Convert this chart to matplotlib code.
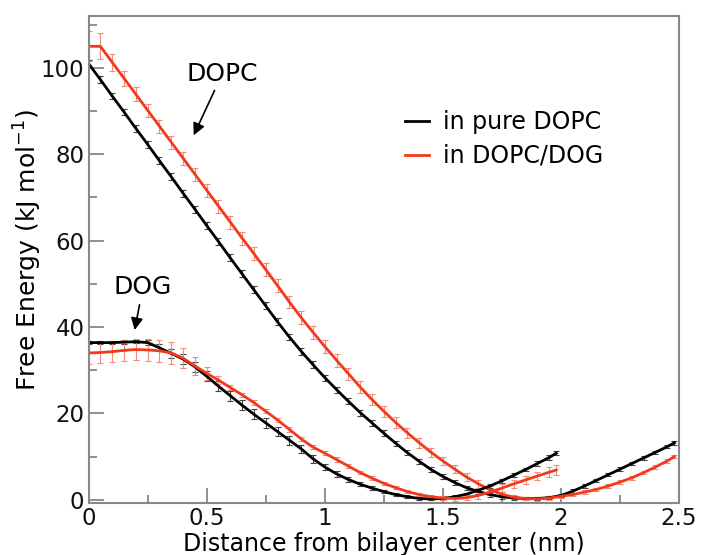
import matplotlib
matplotlib.use("Agg")
import matplotlib.pyplot as plt
import matplotlib.ticker as ticker

# distance from bilayer center (nm)
x_dopc = [0.00, 0.05, 0.10, 0.15, 0.20, 0.25, 0.30, 0.35, 0.40, 0.45,
          0.50, 0.55, 0.60, 0.65, 0.70, 0.75, 0.80, 0.85, 0.90, 0.95,
          1.00, 1.05, 1.10, 1.15, 1.20, 1.25, 1.30, 1.35, 1.40, 1.45,
          1.50, 1.55, 1.60, 1.65, 1.70, 1.75, 1.80, 1.85, 1.90, 1.95,
          2.00, 2.05, 2.10, 2.15, 2.20, 2.25, 2.30, 2.35, 2.40, 2.45, 2.48]
x_dog = [0.00, 0.05, 0.10, 0.15, 0.20, 0.25, 0.30, 0.35, 0.40, 0.45,
         0.50, 0.55, 0.60, 0.65, 0.70, 0.75, 0.80, 0.85, 0.90, 0.95,
         1.00, 1.05, 1.10, 1.15, 1.20, 1.25, 1.30, 1.35, 1.40, 1.45,
         1.50, 1.55, 1.60, 1.65, 1.70, 1.75, 1.80, 1.85, 1.90, 1.95, 1.98]

# free energy (kJ/mol), DOPC in pure DOPC (black) and in DOPC/DOG (red)
dopc_pure = [101.0, 97.3, 93.5, 89.8, 86.0, 82.3, 78.5, 74.8, 71.0, 67.3,
             63.5, 59.8, 56.0, 52.3, 48.6, 44.9, 41.2, 37.7, 34.4, 31.3,
             28.3, 25.5, 22.8, 20.2, 17.8, 15.4, 13.1, 10.9, 8.9, 7.0,
             5.4, 4.0, 2.8, 1.9, 1.2, 0.7, 0.4, 0.3, 0.3, 0.5,
             1.0, 2.0, 3.2, 4.5, 5.8, 7.1, 8.4, 9.7, 11.0, 12.3, 13.2]
dopc_mix = [105.0, 105.0, 101.3, 97.6, 93.9, 90.2, 86.5, 82.8, 79.1, 75.4,
            71.7, 68.0, 64.3, 60.6, 57.0, 53.3, 49.6, 45.8, 42.2, 38.8,
            35.5, 32.3, 29.2, 26.1, 23.2, 20.5, 17.9, 15.5, 13.2, 11.0,
            9.0, 7.1, 5.3, 3.7, 2.3, 1.3, 0.6, 0.3, 0.2, 0.4,
            0.8, 1.2, 1.8, 2.4, 3.2, 4.1, 5.1, 6.3, 7.6, 9.0, 10.0]
dopc_pure_err = [0.8, 0.8, 0.8, 0.8, 0.8, 0.8, 0.8, 0.8, 0.8, 0.8,
                 0.8, 0.8, 0.8, 0.8, 0.8, 0.8, 0.8, 0.8, 0.8, 0.8,
                 0.7, 0.7, 0.7, 0.7, 0.7, 0.7, 0.6, 0.6, 0.6, 0.6,
                 0.5, 0.5, 0.5, 0.5, 0.5, 0.4, 0.4, 0.4, 0.4, 0.4,
                 0.4, 0.4, 0.4, 0.4, 0.4, 0.4, 0.4, 0.4, 0.4, 0.4, 0.4]
dopc_mix_err = [3.5, 3.0, 2.0, 1.8, 1.6, 1.5, 1.5, 1.5, 1.5, 1.5,
                1.5, 1.5, 1.5, 1.5, 1.5, 1.5, 1.5, 1.5, 1.5, 1.5,
                1.5, 1.5, 1.4, 1.4, 1.3, 1.3, 1.2, 1.2, 1.2, 1.1,
                1.0, 1.0, 0.9, 0.9, 0.8, 0.6, 0.5, 0.4, 0.4, 0.4,
                0.4, 0.4, 0.4, 0.4, 0.4, 0.4, 0.4, 0.4, 0.4, 0.4, 0.4]

# free energy (kJ/mol), DOG in pure DOPC (black) and in DOPC/DOG (red)
dog_pure = [36.4, 36.4, 36.4, 36.5, 36.6, 36.4, 35.2, 33.9, 32.6, 30.8,
            28.6, 26.3, 24.1, 21.9, 19.8, 17.8, 15.8, 13.8, 11.8, 9.5,
            7.6, 6.0, 4.7, 3.6, 2.7, 1.9, 1.2, 0.7, 0.3, 0.2,
            0.3, 0.7, 1.3, 2.2, 3.2, 4.4, 5.7, 7.0, 8.4, 9.8, 10.8]
dog_mix = [34.0, 34.1, 34.3, 34.6, 34.8, 34.7, 34.5, 34.0, 32.8, 31.0,
           29.3, 27.7, 26.0, 24.3, 22.5, 20.5, 18.5, 16.3, 14.1, 12.2,
           10.8, 9.3, 7.8, 6.3, 5.0, 3.8, 2.8, 1.9, 1.2, 0.7,
           0.4, 0.3, 0.5, 1.0, 1.8, 2.7, 3.7, 4.6, 5.5, 6.4, 6.9]
dog_pure_err = [0.4, 0.4, 0.4, 0.4, 0.4, 0.5, 0.8, 1.0, 1.2, 1.2,
                1.2, 1.2, 1.2, 1.2, 1.2, 1.2, 1.1, 1.0, 1.0, 0.9,
                0.8, 0.7, 0.6, 0.5, 0.5, 0.4, 0.4, 0.3, 0.3, 0.3,
                0.3, 0.3, 0.3, 0.3, 0.4, 0.4, 0.4, 0.4, 0.5, 0.5, 0.5]
dog_mix_err = [2.5, 2.5, 2.5, 2.5, 2.5, 2.5, 2.5, 2.5, 2.3, 2.0,
               1.5, 1.0, 0.6, 0.5, 0.5, 0.5, 0.5, 0.5, 0.5, 0.5,
               0.5, 0.5, 0.5, 0.4, 0.4, 0.4, 0.4, 0.4, 0.4, 0.4,
               0.4, 0.5, 0.6, 0.7, 0.8, 0.9, 1.0, 1.0, 1.0, 1.1, 1.1]

black = '#000000'
red = '#f2391c'

plt.rcParams['font.family'] = 'DejaVu Sans'

fig = plt.figure(figsize=(7.03, 5.55), dpi=100)
ax = fig.add_axes([0.126, 0.094, 0.840, 0.877])

# error bars first, lines on top
for x, y, e, ec in [(x_dopc, dopc_pure, dopc_pure_err, '#444444'),
                    (x_dopc, dopc_mix, dopc_mix_err, '#f58a78'),
                    (x_dog, dog_pure, dog_pure_err, '#444444'),
                    (x_dog, dog_mix, dog_mix_err, '#f58a78')]:
    ax.errorbar(x, y, yerr=e, fmt='none', ecolor=ec, elinewidth=0.8, capsize=2, capthick=0.8)

ax.plot(x_dopc, dopc_pure, color=black, lw=2, label='in pure DOPC')
ax.plot(x_dopc, dopc_mix, color=red, lw=2, label='in DOPC/DOG')
ax.plot(x_dog, dog_pure, color=black, lw=2)
ax.plot(x_dog, dog_mix, color=red, lw=2)

ax.set_xlim(0, 2.5)
ax.set_ylim(-0.7, 112)
ax.xaxis.set_major_locator(ticker.MultipleLocator(0.5))
ax.xaxis.set_minor_locator(ticker.MultipleLocator(0.25))
ax.yaxis.set_major_locator(ticker.MultipleLocator(20))
ax.yaxis.set_minor_locator(ticker.MultipleLocator(10))
ax.xaxis.set_major_formatter(ticker.FormatStrFormatter('%g'))
ax.tick_params(which='both', direction='in', colors='#888888', labelcolor='#111111', labelsize=16.5, width=1.3)
ax.tick_params(which='major', length=11)
ax.tick_params(which='minor', length=6)
ax.tick_params(axis='x', pad=3)
ax.tick_params(axis='y', pad=3)
for s in ax.spines.values():
    s.set_color('#888888')
    s.set_linewidth(1.5)

ax.set_xlabel('Distance from bilayer center (nm)', fontsize=17, labelpad=1.5)
ax.set_ylabel('Free Energy (kJ mol$^{-1}$)', fontsize=18, labelpad=-2)
ax.yaxis.label.set_y(0.52)

ax.annotate('DOPC', xy=(0.445, 84.4), xytext=(0.565, 98.5), fontsize=18, ha='center', va='center',
            arrowprops=dict(arrowstyle='-|>', color='black', lw=1.2, mutation_scale=18, shrinkA=1, shrinkB=0))
ax.annotate('DOG', xy=(0.195, 39.3), xytext=(0.23, 49.2), fontsize=18, ha='center', va='center',
            arrowprops=dict(arrowstyle='-|>', color='black', lw=1.2, mutation_scale=18, shrinkA=2, shrinkB=0))

ax.legend(loc='upper left', bbox_to_anchor=(0.5, 0.85), frameon=False, fontsize=17,
          handlelength=1.0, handletextpad=0.6, labelspacing=0.4)

fig.savefig('out.png', dpi=100)
